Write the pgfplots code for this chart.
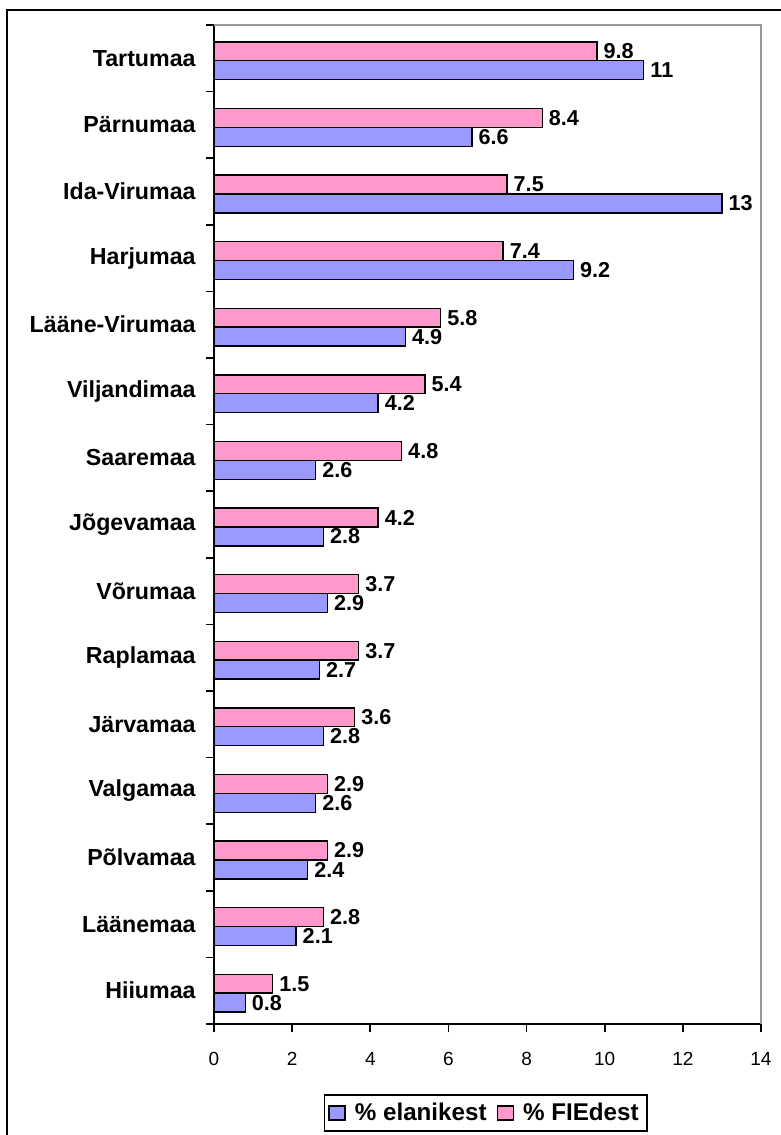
\documentclass[border=0pt]{standalone}
\usepackage{fontspec}
\setmainfont{Liberation Sans}
\usepackage{pgfplots}
\pgfplotsset{compat=1.18}
\definecolor{elan}{HTML}{9999FF}
\definecolor{fie}{HTML}{FF99CC}

\begin{document}
\begin{tikzpicture}
\useasboundingbox (-107pt,-55.5pt) rectangle (283.5pt,512pt);
\begin{axis}[
    name=ax,
    scale only axis,
    width=273.5pt, height=499.5pt,
    xbar, bar width=0.285,
    xmin=0, xmax=14, ymin=-0.5, ymax=14.5,
    axis lines*=left,
    axis line style={line width=0.8pt},
    xtick={0,2,...,14},
    ytick={0,...,14},
    yticklabels={Hiiumaa,Läänemaa,Põlvamaa,Valgamaa,Järvamaa,Raplamaa,Võrumaa,Jõgevamaa,Saaremaa,Viljandimaa,Lääne-Virumaa,Harjumaa,Ida-Virumaa,Pärnumaa,Tartumaa},
    minor ytick={-0.5,0.5,...,14.5},
    tick align=outside,
    major tick length=4pt, minor tick length=4pt,
    major y tick style={draw=none},
    minor y tick style={line width=0.8pt, black},
    major x tick style={line width=0.8pt, black},
    xticklabel style={font=\fontsize{9.5}{11}\selectfont, inner sep=0pt, anchor=north, yshift=-10pt},
    yticklabel style={font=\fontsize{11.6}{13}\selectfont\bfseries, inner sep=0pt, anchor=east, xshift=-5pt},
    /pgf/number format/assume math mode=true,
    point meta=x,
    nodes near coords={\pgfmathprintnumber{\pgfplotspointmeta}},
    nodes near coords style={font=\fontsize{10.8}{12}\selectfont\bfseries, anchor=west, inner sep=0pt, xshift=3pt},
    legend style={at={(0.4965,-0.0891)}, anchor=center, draw=black, line width=0.8pt,
        font=\fontsize{12.1}{13}\selectfont\bfseries, inner xsep=2pt, inner ysep=2pt,
        legend columns=-1,
        /tikz/every odd column/.append style={column sep=2.5pt},
        /tikz/every even column/.append style={column sep=3pt}},
]
\addplot[fill=elan, draw=black, line width=0.7pt, bar shift=-0.18,
    legend image code/.code={\draw[fill=elan,draw=black,line width=0.7pt] (0pt,-3.5pt) rectangle (8pt,3.5pt);}]
coordinates {
    (0.8,0) (2.1,1) (2.4,2) (2.6,3) (2.8,4) (2.7,5) (2.9,6) (2.8,7)
    (2.6,8) (4.2,9) (4.9,10) (9.2,11) (13,12) (6.6,13) (11,14)
};
\addplot[fill=fie, draw=black, line width=0.7pt, bar shift=0.105,
    legend image code/.code={\draw[fill=fie,draw=black,line width=0.7pt] (0pt,-3.5pt) rectangle (8pt,3.5pt);}]
coordinates {
    (1.5,0) (2.8,1) (2.9,2) (2.9,3) (3.6,4) (3.7,5) (3.7,6) (4.2,7)
    (4.8,8) (5.4,9) (5.8,10) (7.4,11) (7.5,12) (8.4,13) (9.8,14)
};
\legend{\% elanikest, \% FIEdest}
\end{axis}
\draw[gray!80, line width=1pt] (ax.north west) -- (ax.north east) -- (ax.south east);
\draw[line width=1pt] (-103.5pt,-55.5pt) -- (-103.5pt,507pt) -- (283.5pt,507pt);
\end{tikzpicture}
\end{document}
